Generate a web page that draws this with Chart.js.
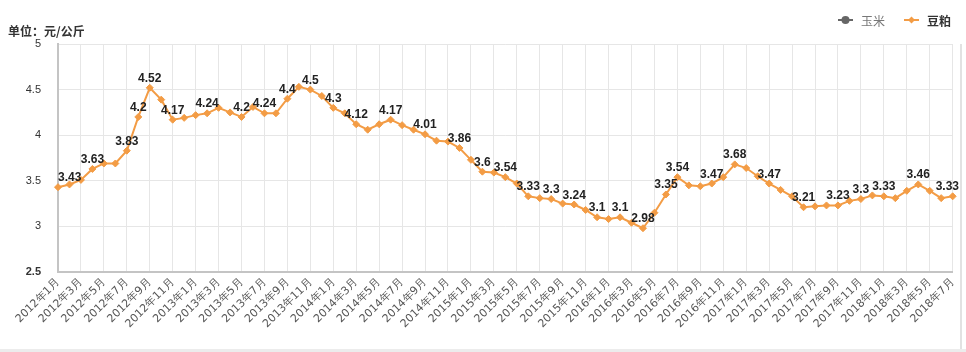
<!DOCTYPE html>
<html><head><meta charset="utf-8">
<script src="https://cdn.jsdelivr.net/npm/chart.js@4"></script>
<style>
html,body{margin:0;padding:0;background:#fff;}
#wrap{position:relative;width:966px;height:352px;overflow:hidden;}
#c{position:absolute;left:0;top:0;}
.bR{position:absolute;left:960px;top:44px;width:2px;height:308px;background:#e2e2e2;}
.bB{position:absolute;left:0;top:349px;width:966px;height:3px;background:#ececec;}
</style></head><body>
<div id="wrap"><canvas id="c" width="966" height="352"></canvas><div class="bR"></div><div class="bB"></div></div>
<script>
const categories = [
 '2012年1月','2012年2月','2012年3月','2012年4月','2012年5月','2012年6月','2012年7月','2012年8月','2012年9月','2012年10月','2012年11月','2012年12月',
 '2013年1月','2013年2月','2013年3月','2013年4月','2013年5月','2013年6月','2013年7月','2013年8月','2013年9月','2013年10月','2013年11月','2013年12月',
 '2014年1月','2014年2月','2014年3月','2014年4月','2014年5月','2014年6月','2014年7月','2014年8月','2014年9月','2014年10月','2014年11月','2014年12月',
 '2015年1月','2015年2月','2015年3月','2015年4月','2015年5月','2015年6月','2015年7月','2015年8月','2015年9月','2015年10月','2015年11月','2015年12月',
 '2016年1月','2016年2月','2016年3月','2016年4月','2016年5月','2016年6月','2016年7月','2016年8月','2016年9月','2016年10月','2016年11月','2016年12月',
 '2017年1月','2017年2月','2017年3月','2017年4月','2017年5月','2017年6月','2017年7月','2017年8月','2017年9月','2017年10月','2017年11月','2017年12月',
 '2018年1月','2018年2月','2018年3月','2018年4月','2018年5月','2018年6月','2018年7月'
];
const soymealValues = [
 3.43,3.46,3.51,3.63,3.69,3.69,3.83,4.2,4.52,4.39,4.17,4.19,
 4.22,4.24,4.30,4.25,4.2,4.31,4.24,4.24,4.4,4.53,4.5,4.43,
 4.3,4.24,4.12,4.06,4.12,4.17,4.11,4.06,4.01,3.94,3.93,3.86,
 3.73,3.6,3.59,3.54,3.47,3.33,3.31,3.3,3.25,3.24,3.18,3.1,
 3.08,3.1,3.04,2.98,3.15,3.35,3.54,3.45,3.44,3.47,3.54,3.68,
 3.64,3.55,3.47,3.40,3.33,3.21,3.22,3.23,3.23,3.28,3.3,3.34,
 3.33,3.31,3.39,3.46,3.39,3.31,3.33
];
const labeledIndices = [0,3,6,7,8,10,13,16,18,20,22,24,26,29,32,35,37,39,41,43,45,47,49,51,53,54,57,59,62,65,68,70,72,75,78];
const seriesNames = ['玉米','豆粕'];
const unitTitle = '单位：元/公斤';
const yTicks = [2.5,3,3.5,4,4.5,5];

const ORANGE = '#f39c45';

const decor = {
  id:'decor',
  afterDatasetsDraw(chart){
    const ctx = chart.ctx, area = chart.chartArea;
    const meta = chart.getDatasetMeta(0);
    ctx.save();
    ctx.font = 'bold 12px "Liberation Sans", Arial, sans-serif';
    ctx.fillStyle = '#222';
    ctx.textAlign = 'center';
    ctx.textBaseline = 'alphabetic';
    labeledIndices.forEach(i=>{
      const p = meta.data[i];
      const txt = String(soymealValues[i]);
      const w = ctx.measureText(txt).width;
      let x = p.x;
      x = Math.max(area.left + w/2, Math.min(960 - w/2 - 1, x));
      ctx.fillText(txt, x, p.y - 6);
    });
    ctx.restore();
  },
  afterDraw(chart){
    const ctx = chart.ctx;
    ctx.save();
    ctx.font = 'bold 12px "Noto Sans CJK SC", sans-serif';
    ctx.fillStyle = '#333';
    ctx.textBaseline = 'middle';
    ctx.textAlign = 'left';
    ctx.fillText(unitTitle, 8, 31);
    // legend
    const ly = 20;
    ctx.lineWidth = 2;
    ctx.strokeStyle = '#666'; ctx.fillStyle = '#666';
    ctx.beginPath(); ctx.moveTo(838, ly); ctx.lineTo(853, ly); ctx.stroke();
    ctx.beginPath(); ctx.arc(845.5, ly, 4, 0, Math.PI*2); ctx.fill();
    ctx.font = '12px "Noto Sans CJK SC", sans-serif';
    ctx.fillStyle = '#777';
    ctx.fillText(seriesNames[0], 861, ly+1);
    ctx.strokeStyle = ORANGE; ctx.fillStyle = ORANGE;
    ctx.beginPath(); ctx.moveTo(904, ly); ctx.lineTo(919, ly); ctx.stroke();
    ctx.beginPath(); ctx.moveTo(911.5, ly-3.5); ctx.lineTo(915, ly); ctx.lineTo(911.5, ly+3.5); ctx.lineTo(908, ly); ctx.closePath(); ctx.fill();
    ctx.font = 'bold 12px "Noto Sans CJK SC", sans-serif';
    ctx.fillStyle = '#333';
    ctx.fillText(seriesNames[1], 927, ly+1);
    ctx.restore();
  }
};

new Chart(document.getElementById('c'), {
  type:'line',
  data:{
    labels: categories,
    datasets:[{
      label: seriesNames[1],
      data: soymealValues,
      borderColor: ORANGE,
      backgroundColor: ORANGE,
      borderWidth: 2,
      pointStyle: 'rectRot',
      pointRadius: 3.5,
      pointHoverRadius: 3.5,
      pointBorderWidth: 1,
      tension: 0
    }]
  },
  options:{
    responsive:false,
    animation:false,
    devicePixelRatio:1,
    layout:{padding:{top:44,right:11,left:0,bottom:0}},
    plugins:{legend:{display:false},tooltip:{enabled:false},title:{display:false}},
    scales:{
      x:{
        type:'category',
        offset:false,
        grid:{color:(c)=> (c.index%2===0 ? '#e6e6e6' : 'rgba(0,0,0,0)'), drawTicks:false},
        border:{color:'#c4c4c4', width:2},
        ticks:{autoSkip:false, maxRotation:45, minRotation:45, padding:4, color:'#555',
          font:{family:'"DejaVu Sans", sans-serif', size:11},
          callback:(v,i)=> (i%2===0 ? categories[i] : '')},
        afterFit:(s)=>{ s.height = 80; }
      },
      y:{
        min:2.5, max:5,
        afterBuildTicks:(s)=>{ s.ticks = yTicks.map(v=>({value:v})); },
        grid:{color:'#e6e6e6', drawTicks:false},
        border:{color:'#c4c4c4', width:2},
        ticks:{padding:17, color:'#333',
          font:(c)=>({family:'"Liberation Sans", Arial, sans-serif', size:11, weight:(c.tick && c.tick.value===2.5) ? 'bold' : 'normal'}),
          callback:(v)=>String(v)},
        afterFit:(s)=>{ s.width = 58; }
      }
    }
  },
  plugins:[decor]
});
</script>
</body></html>
